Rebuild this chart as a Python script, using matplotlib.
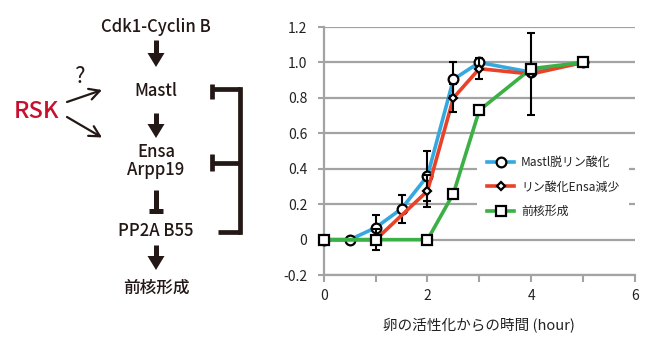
import numpy as np
import matplotlib
matplotlib.use('Agg')
import matplotlib.pyplot as plt
from matplotlib.lines import Line2D
from matplotlib.patches import Polygon

plt.rcParams['font.family'] = ['Noto Sans CJK JP', 'DejaVu Sans']

# time after egg activation (hour) and normalised responses
t_mastl = [0, 0.5, 1, 1.5, 2, 2.5, 3, 4, 5]
mastl = [0, 0, 0.068, 0.175, 0.36, 0.905, 1.0, 0.945, 1.0]
mastl_err = [0, 0, 0.07, 0.078, 0.14, 0.095, 0, 0, 0]

t_ensa = [0, 1, 2, 2.5, 3, 4, 5]
ensa = [0, 0, 0.275, 0.80, 0.965, 0.935, 1.0]
ensa_err = [0, 0.06, 0.09, 0.08, 0.06, 0.23, 0]

t_pn = [0, 1, 2, 2.5, 3, 4, 5]
pn = [0, 0, 0, 0.26, 0.73, 0.965, 1.0]

labels = ['Mastl脱リン酸化', 'リン酸化Ensa減少', '前核形成']
colors = ['#35a8df', '#ea4129', '#3bb044']
markers = ['o', 'D', 's']
msizes = [7, 4.5, 6.5]

y_ticks = [-0.2, 0, 0.2, 0.4, 0.6, 0.8, 1.0, 1.2]
y_ticklabels = ['-0.2', '0', '0.2', '0.4', '0.6', '0.8', '1.0', '1.2']

INK = '#231815'
GRID = '#a3a3a3'

fig = plt.figure(figsize=(6.53, 3.38), dpi=100)

# ---- pathway diagram drawn in pixel coordinates ----
ov = fig.add_axes([0, 0, 1, 1])
ov.set_xlim(0, 653)
ov.set_ylim(338, 0)
ov.axis('off')
ov.patch.set_visible(False)

cx = 156
fs = 12
for txt, yb in [('Cdk1-Cyclin B', 31.5), ('Mastl', 96.5), ('Ensa', 157),
                ('Arpp19', 175), ('PP2A B55', 236.5), ('前核形成', 293)]:
    ov.text(cx, yb, txt, ha='center', va='baseline', fontsize=fs,
            fontweight='medium', color=INK)

ov.text(36, 118.5, 'RSK', ha='center', va='baseline', fontsize=17,
        fontweight='medium', color='#c8102e')
ov.text(79, 83, '?', ha='center', va='baseline', fontsize=16, color=INK)


def fat_arrow(y0, y1):
    head = 14
    ov.plot([cx, cx], [y0, y1 - head + 1], color=INK, lw=3.6, solid_capstyle='butt')
    ov.add_patch(Polygon([[cx - 8.5, y1 - head], [cx + 8.5, y1 - head], [cx, y1]],
                         closed=True, color=INK, lw=0))


fat_arrow(40, 67)
fat_arrow(113, 138)
fat_arrow(245, 270)

# Ensa/Arpp19 inhibits PP2A-B55
ov.plot([cx, cx], [190, 211], color=INK, lw=3.6, solid_capstyle='butt')
ov.plot([cx - 7, cx + 7], [210.5, 210.5], color=INK, lw=3.6, solid_capstyle='butt')

# RSK open arrows
for tip, tail in [((102, 90), (67, 102)), ((102, 137.5), (67, 117))]:
    ov.annotate('', xy=tip, xytext=tail,
                arrowprops=dict(arrowstyle='->,head_length=0.75,head_width=0.4',
                                lw=1.6, color=INK, shrinkA=0, shrinkB=0))

# PP2A-B55 feedback bracket
lw_b = 3.4
ov.plot([240, 240], [89, 232], color=INK, lw=lw_b, solid_capstyle='projecting')
ov.plot([212, 240], [89, 89], color=INK, lw=lw_b, solid_capstyle='butt')
ov.plot([212, 212], [84, 99], color=INK, lw=lw_b, solid_capstyle='butt')
ov.plot([212, 240], [163, 163], color=INK, lw=lw_b, solid_capstyle='butt')
ov.plot([212, 212], [154, 171], color=INK, lw=lw_b, solid_capstyle='butt')
ov.plot([218, 240], [231.5, 231.5], color=INK, lw=lw_b, solid_capstyle='butt')

# ---- time course chart ----
ax = fig.add_axes([0.496, 0.186, 0.476, 0.734])
ax.set_xlim(0, 6)
ax.set_ylim(-0.2, 1.2)

series = [(t_mastl, mastl, mastl_err), (t_ensa, ensa, ensa_err), (t_pn, pn, None)]
for k, (t, y, err) in enumerate(series):
    z = 3 + 3 * k
    ax.plot(t, y, color=colors[k], lw=2.6, zorder=z, solid_capstyle='round',
            solid_joinstyle='round')
    if err is not None:
        ax.errorbar(t, y, yerr=err, fmt='none', ecolor='black', elinewidth=1.5,
                    capsize=2.6, capthick=1.5, zorder=z + 1)
    ax.plot(t, y, ls='none', marker=markers[k], ms=msizes[k], mfc='white',
            mec='black', mew=1.6, zorder=z + 2, clip_on=False)

ax.set_yticks(y_ticks)
ax.set_yticklabels(y_ticklabels)
ax.set_xticks([0, 2, 4, 6])
ax.set_xticks([1, 3, 5], minor=True)
ax.tick_params(axis='both', which='both', direction='out', color=GRID, width=1.5,
               labelsize=10, labelcolor='#222222')
ax.tick_params(axis='y', length=4, pad=8)
ax.tick_params(axis='x', which='both', length=5, pad=5)

ax.grid(axis='y', color=GRID, lw=1.6)
ax.set_axisbelow(True)
for s in ['top', 'right']:
    ax.spines[s].set_visible(False)
for s in ['left', 'bottom']:
    ax.spines[s].set_color(GRID)
    ax.spines[s].set_linewidth(1.6)

ax.set_xlabel('卵の活性化からの時間 (hour)', fontsize=10.5, color='#222222', labelpad=11)

handles = [Line2D([], [], color=colors[k], lw=2.6, marker=markers[k], ms=msizes[k],
                  mfc='white', mec='black', mew=1.6) for k in range(3)]
leg = ax.legend(handles, labels, loc='center left', bbox_to_anchor=(0.722, 0.447),
                bbox_transform=fig.transFigure, fontsize=8.6, frameon=True,
                facecolor='white', edgecolor='none', framealpha=1, fancybox=False,
                handlelength=2.3, handletextpad=0.55, labelspacing=0.95, borderpad=0.8)
for t in leg.get_texts():
    t.set_color('#222222')

fig.savefig('out.png', dpi=100)
